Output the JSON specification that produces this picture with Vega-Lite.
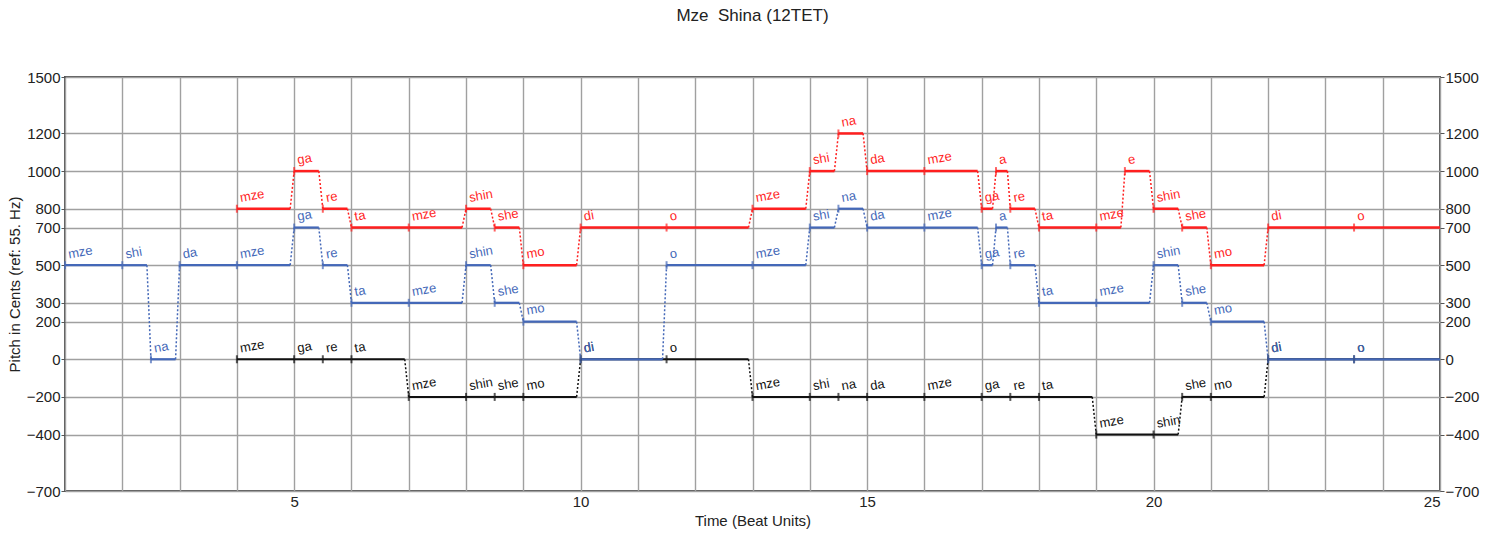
{
  "$schema": "https://vega.github.io/schema/vega-lite/v6.json",
  "width": 1375,
  "height": 414,
  "autosize": {"type": "none"},
  "padding": {"left": 65, "top": 77, "right": 58, "bottom": 45},
  "background": "white",
  "title": {
    "text": "Mze \u00a0Shina (12TET)",
    "font": "Liberation Sans",
    "fontSize": 17,
    "fontWeight": "normal",
    "color": "#222222",
    "anchor": "middle",
    "offset": 45
  },
  "config": {
    "view": {"stroke": "#555555", "strokeWidth": 2},
    "axis": {
      "labelFont": "Liberation Sans",
      "titleFont": "Liberation Sans",
      "labelFontSize": 15,
      "titleFontSize": 15,
      "titleFontWeight": "normal",
      "labelColor": "#222222",
      "titleColor": "#222222",
      "gridColor": "#a0a0a0",
      "gridWidth": 1.4,
      "gridOpacity": 1,
      "domain": false
    }
  },
  "datasets": {
    "notes": [
      {"voice": "upper", "syl": "mze", "start": 4, "end": 4.93, "pitch": 800},
      {"voice": "upper", "syl": "ga", "start": 5, "end": 5.43, "pitch": 1000},
      {"voice": "upper", "syl": "re", "start": 5.5, "end": 5.93, "pitch": 800},
      {"voice": "upper", "syl": "ta", "start": 6, "end": 7, "pitch": 700},
      {"voice": "upper", "syl": "mze", "start": 7, "end": 7.93, "pitch": 700},
      {"voice": "upper", "syl": "shin", "start": 8, "end": 8.43, "pitch": 800},
      {"voice": "upper", "syl": "she", "start": 8.5, "end": 8.93, "pitch": 700},
      {"voice": "upper", "syl": "mo", "start": 9, "end": 9.93, "pitch": 500},
      {"voice": "upper", "syl": "di", "start": 10, "end": 11.5, "pitch": 700},
      {"voice": "upper", "syl": "o", "start": 11.5, "end": 12.93, "pitch": 700},
      {"voice": "upper", "syl": "mze", "start": 13, "end": 13.93, "pitch": 800},
      {"voice": "upper", "syl": "shi", "start": 14, "end": 14.43, "pitch": 1000},
      {"voice": "upper", "syl": "na", "start": 14.5, "end": 14.93, "pitch": 1200},
      {"voice": "upper", "syl": "da", "start": 15, "end": 16, "pitch": 1000},
      {"voice": "upper", "syl": "mze", "start": 16, "end": 16.93, "pitch": 1000},
      {"voice": "upper", "syl": "ga", "start": 17, "end": 17.19, "pitch": 800},
      {"voice": "upper", "syl": "a", "start": 17.25, "end": 17.45, "pitch": 1000},
      {"voice": "upper", "syl": "re", "start": 17.5, "end": 17.93, "pitch": 800},
      {"voice": "upper", "syl": "ta", "start": 18, "end": 19, "pitch": 700},
      {"voice": "upper", "syl": "mze", "start": 19, "end": 19.43, "pitch": 700},
      {"voice": "upper", "syl": "e", "start": 19.5, "end": 19.93, "pitch": 1000},
      {"voice": "upper", "syl": "shin", "start": 20, "end": 20.43, "pitch": 800},
      {"voice": "upper", "syl": "she", "start": 20.5, "end": 20.93, "pitch": 700},
      {"voice": "upper", "syl": "mo", "start": 21, "end": 21.93, "pitch": 500},
      {"voice": "upper", "syl": "di", "start": 22, "end": 23.5, "pitch": 700},
      {"voice": "upper", "syl": "o", "start": 23.5, "end": 25, "pitch": 700},

      {"voice": "lower", "syl": "mze", "start": 4, "end": 5, "pitch": 0},
      {"voice": "lower", "syl": "ga", "start": 5, "end": 5.5, "pitch": 0},
      {"voice": "lower", "syl": "re", "start": 5.5, "end": 6, "pitch": 0},
      {"voice": "lower", "syl": "ta", "start": 6, "end": 6.93, "pitch": 0},
      {"voice": "lower", "syl": "mze", "start": 7, "end": 8, "pitch": -200},
      {"voice": "lower", "syl": "shin", "start": 8, "end": 8.5, "pitch": -200},
      {"voice": "lower", "syl": "she", "start": 8.5, "end": 9, "pitch": -200},
      {"voice": "lower", "syl": "mo", "start": 9, "end": 9.93, "pitch": -200},
      {"voice": "lower", "syl": "di", "start": 10, "end": 11.5, "pitch": 0},
      {"voice": "lower", "syl": "o", "start": 11.5, "end": 12.93, "pitch": 0},
      {"voice": "lower", "syl": "mze", "start": 13, "end": 14, "pitch": -200},
      {"voice": "lower", "syl": "shi", "start": 14, "end": 14.5, "pitch": -200},
      {"voice": "lower", "syl": "na", "start": 14.5, "end": 15, "pitch": -200},
      {"voice": "lower", "syl": "da", "start": 15, "end": 16, "pitch": -200},
      {"voice": "lower", "syl": "mze", "start": 16, "end": 17, "pitch": -200},
      {"voice": "lower", "syl": "ga", "start": 17, "end": 17.5, "pitch": -200},
      {"voice": "lower", "syl": "re", "start": 17.5, "end": 18, "pitch": -200},
      {"voice": "lower", "syl": "ta", "start": 18, "end": 18.93, "pitch": -200},
      {"voice": "lower", "syl": "mze", "start": 19, "end": 20, "pitch": -400},
      {"voice": "lower", "syl": "shin", "start": 20, "end": 20.43, "pitch": -400},
      {"voice": "lower", "syl": "she", "start": 20.5, "end": 21, "pitch": -200},
      {"voice": "lower", "syl": "mo", "start": 21, "end": 21.93, "pitch": -200},
      {"voice": "lower", "syl": "di", "start": 22, "end": 23.5, "pitch": 0},
      {"voice": "lower", "syl": "o", "start": 23.5, "end": 25, "pitch": 0},

      {"voice": "middle", "syl": "mze", "start": 1, "end": 2, "pitch": 500},
      {"voice": "middle", "syl": "shi", "start": 2, "end": 2.43, "pitch": 500},
      {"voice": "middle", "syl": "na", "start": 2.5, "end": 2.93, "pitch": 0},
      {"voice": "middle", "syl": "da", "start": 3, "end": 4, "pitch": 500},
      {"voice": "middle", "syl": "mze", "start": 4, "end": 4.93, "pitch": 500},
      {"voice": "middle", "syl": "ga", "start": 5, "end": 5.43, "pitch": 700},
      {"voice": "middle", "syl": "re", "start": 5.5, "end": 5.93, "pitch": 500},
      {"voice": "middle", "syl": "ta", "start": 6, "end": 7, "pitch": 300},
      {"voice": "middle", "syl": "mze", "start": 7, "end": 7.93, "pitch": 300},
      {"voice": "middle", "syl": "shin", "start": 8, "end": 8.43, "pitch": 500},
      {"voice": "middle", "syl": "she", "start": 8.5, "end": 8.93, "pitch": 300},
      {"voice": "middle", "syl": "mo", "start": 9, "end": 9.93, "pitch": 200},
      {"voice": "middle", "syl": "di", "start": 10, "end": 11.43, "pitch": 0},
      {"voice": "middle", "syl": "o", "start": 11.5, "end": 13, "pitch": 500},
      {"voice": "middle", "syl": "mze", "start": 13, "end": 13.93, "pitch": 500},
      {"voice": "middle", "syl": "shi", "start": 14, "end": 14.43, "pitch": 700},
      {"voice": "middle", "syl": "na", "start": 14.5, "end": 14.93, "pitch": 800},
      {"voice": "middle", "syl": "da", "start": 15, "end": 16, "pitch": 700},
      {"voice": "middle", "syl": "mze", "start": 16, "end": 16.93, "pitch": 700},
      {"voice": "middle", "syl": "ga", "start": 17, "end": 17.19, "pitch": 500},
      {"voice": "middle", "syl": "a", "start": 17.25, "end": 17.45, "pitch": 700},
      {"voice": "middle", "syl": "re", "start": 17.5, "end": 17.93, "pitch": 500},
      {"voice": "middle", "syl": "ta", "start": 18, "end": 19, "pitch": 300},
      {"voice": "middle", "syl": "mze", "start": 19, "end": 19.93, "pitch": 300},
      {"voice": "middle", "syl": "shin", "start": 20, "end": 20.43, "pitch": 500},
      {"voice": "middle", "syl": "she", "start": 20.5, "end": 20.93, "pitch": 300},
      {"voice": "middle", "syl": "mo", "start": 21, "end": 21.93, "pitch": 200},
      {"voice": "middle", "syl": "di", "start": 22, "end": 23.5, "pitch": 0},
      {"voice": "middle", "syl": "o", "start": 23.5, "end": 25, "pitch": 0}
    ],
    "links": [
      {"voice": "upper", "x1": 4.93, "y1": 800, "x2": 5, "y2": 1000},
      {"voice": "upper", "x1": 5.43, "y1": 1000, "x2": 5.5, "y2": 800},
      {"voice": "upper", "x1": 5.93, "y1": 800, "x2": 6, "y2": 700},
      {"voice": "upper", "x1": 7.93, "y1": 700, "x2": 8, "y2": 800},
      {"voice": "upper", "x1": 8.43, "y1": 800, "x2": 8.5, "y2": 700},
      {"voice": "upper", "x1": 8.93, "y1": 700, "x2": 9, "y2": 500},
      {"voice": "upper", "x1": 9.93, "y1": 500, "x2": 10, "y2": 700},
      {"voice": "upper", "x1": 12.93, "y1": 700, "x2": 13, "y2": 800},
      {"voice": "upper", "x1": 13.93, "y1": 800, "x2": 14, "y2": 1000},
      {"voice": "upper", "x1": 14.43, "y1": 1000, "x2": 14.5, "y2": 1200},
      {"voice": "upper", "x1": 14.93, "y1": 1200, "x2": 15, "y2": 1000},
      {"voice": "upper", "x1": 16.93, "y1": 1000, "x2": 17, "y2": 800},
      {"voice": "upper", "x1": 17.19, "y1": 800, "x2": 17.25, "y2": 1000},
      {"voice": "upper", "x1": 17.45, "y1": 1000, "x2": 17.5, "y2": 800},
      {"voice": "upper", "x1": 17.93, "y1": 800, "x2": 18, "y2": 700},
      {"voice": "upper", "x1": 19.43, "y1": 700, "x2": 19.5, "y2": 1000},
      {"voice": "upper", "x1": 19.93, "y1": 1000, "x2": 20, "y2": 800},
      {"voice": "upper", "x1": 20.43, "y1": 800, "x2": 20.5, "y2": 700},
      {"voice": "upper", "x1": 20.93, "y1": 700, "x2": 21, "y2": 500},
      {"voice": "upper", "x1": 21.93, "y1": 500, "x2": 22, "y2": 700},

      {"voice": "lower", "x1": 6.93, "y1": 0, "x2": 7, "y2": -200},
      {"voice": "lower", "x1": 9.93, "y1": -200, "x2": 10, "y2": 0},
      {"voice": "lower", "x1": 12.93, "y1": 0, "x2": 13, "y2": -200},
      {"voice": "lower", "x1": 18.93, "y1": -200, "x2": 19, "y2": -400},
      {"voice": "lower", "x1": 20.43, "y1": -400, "x2": 20.5, "y2": -200},
      {"voice": "lower", "x1": 21.93, "y1": -200, "x2": 22, "y2": 0},

      {"voice": "middle", "x1": 2.43, "y1": 500, "x2": 2.5, "y2": 0},
      {"voice": "middle", "x1": 2.93, "y1": 0, "x2": 3, "y2": 500},
      {"voice": "middle", "x1": 4.93, "y1": 500, "x2": 5, "y2": 700},
      {"voice": "middle", "x1": 5.43, "y1": 700, "x2": 5.5, "y2": 500},
      {"voice": "middle", "x1": 5.93, "y1": 500, "x2": 6, "y2": 300},
      {"voice": "middle", "x1": 7.93, "y1": 300, "x2": 8, "y2": 500},
      {"voice": "middle", "x1": 8.43, "y1": 500, "x2": 8.5, "y2": 300},
      {"voice": "middle", "x1": 8.93, "y1": 300, "x2": 9, "y2": 200},
      {"voice": "middle", "x1": 9.93, "y1": 200, "x2": 10, "y2": 0},
      {"voice": "middle", "x1": 11.43, "y1": 0, "x2": 11.5, "y2": 500},
      {"voice": "middle", "x1": 13.93, "y1": 500, "x2": 14, "y2": 700},
      {"voice": "middle", "x1": 14.43, "y1": 700, "x2": 14.5, "y2": 800},
      {"voice": "middle", "x1": 14.93, "y1": 800, "x2": 15, "y2": 700},
      {"voice": "middle", "x1": 16.93, "y1": 700, "x2": 17, "y2": 500},
      {"voice": "middle", "x1": 17.19, "y1": 500, "x2": 17.25, "y2": 700},
      {"voice": "middle", "x1": 17.45, "y1": 700, "x2": 17.5, "y2": 500},
      {"voice": "middle", "x1": 17.93, "y1": 500, "x2": 18, "y2": 300},
      {"voice": "middle", "x1": 19.93, "y1": 300, "x2": 20, "y2": 500},
      {"voice": "middle", "x1": 20.43, "y1": 500, "x2": 20.5, "y2": 300},
      {"voice": "middle", "x1": 20.93, "y1": 300, "x2": 21, "y2": 200},
      {"voice": "middle", "x1": 21.93, "y1": 200, "x2": 22, "y2": 0}
    ]
  },
  "resolve": {"axis": {"y": "independent"}},
  "layer": [
    {
      "data": {"name": "notes"},
      "mark": {"type": "rule"},
      "encoding": {
        "x": {
          "field": "start", "type": "quantitative",
          "scale": {"domain": [1, 25], "nice": false, "zero": false},
          "axis": {
            "title": "Time (Beat Units)",
            "grid": true,
            "format": "d",
            "values": [1, 2, 3, 4, 5, 6, 7, 8, 9, 10, 11, 12, 13, 14, 15, 16, 17, 18, 19, 20, 21, 22, 23, 24, 25],
            "labelExpr": "datum.value % 5 === 0 ? datum.label : ''",
            "ticks": false,
            "labelPadding": 3,
            "titlePadding": 4
          }
        },
        "x2": {"field": "end"},
        "y": {
          "field": "pitch", "type": "quantitative",
          "scale": {"domain": [-700, 1500], "nice": false, "zero": false},
          "axis": {
            "orient": "left",
            "title": "Pitch in Cents (ref: 55. Hz)",
            "grid": true,
            "format": "d",
            "values": [-700, -400, -200, 0, 200, 300, 500, 700, 800, 1000, 1200, 1500],
            "tickSize": 4,
            "tickColor": "#555555",
            "labelPadding": 1,
            "titleX": -43
          }
        },
        "color": {"field": "voice", "type": "nominal", "scale": {"domain": ["upper", "middle", "lower"], "range": ["#ff1f1f", "#4468b8", "#111111"]}, "legend": null},
        "strokeWidth": {"field": "voice", "type": "nominal", "scale": {"domain": ["upper", "middle", "lower"], "range": [2.5, 2, 2.5]}, "legend": null}
      }
    },
    {
      "data": {"name": "links"},
      "mark": {"type": "rule", "strokeDash": [2, 2], "strokeWidth": 1.5},
      "encoding": {
        "x": {"field": "x1", "type": "quantitative"},
        "x2": {"field": "x2"},
        "y": {"field": "y1", "type": "quantitative", "axis": null},
        "y2": {"field": "y2"},
        "color": {"field": "voice", "type": "nominal"}
      }
    },
    {
      "data": {"name": "notes"},
      "mark": {"type": "tick", "orient": "vertical", "size": 8, "thickness": 2},
      "encoding": {
        "x": {"field": "start", "type": "quantitative"},
        "y": {
          "field": "pitch", "type": "quantitative",
          "axis": {
            "orient": "right",
            "title": null,
            "grid": false,
            "format": "d",
            "values": [-700, -400, -200, 0, 200, 300, 500, 700, 800, 1000, 1200, 1500],
            "tickSize": 4,
            "tickColor": "#555555",
            "labelPadding": 1
          }
        },
        "color": {"field": "voice", "type": "nominal"}
      }
    },
    {
      "data": {"name": "notes"},
      "mark": {"type": "text", "align": "left", "baseline": "alphabetic", "dx": 5, "dy": -6, "angle": -10, "font": "Liberation Sans", "fontSize": 13},
      "encoding": {
        "x": {"field": "start", "type": "quantitative"},
        "y": {"field": "pitch", "type": "quantitative", "axis": null},
        "text": {"field": "syl"},
        "color": {"field": "voice", "type": "nominal"}
      }
    }
  ]
}
